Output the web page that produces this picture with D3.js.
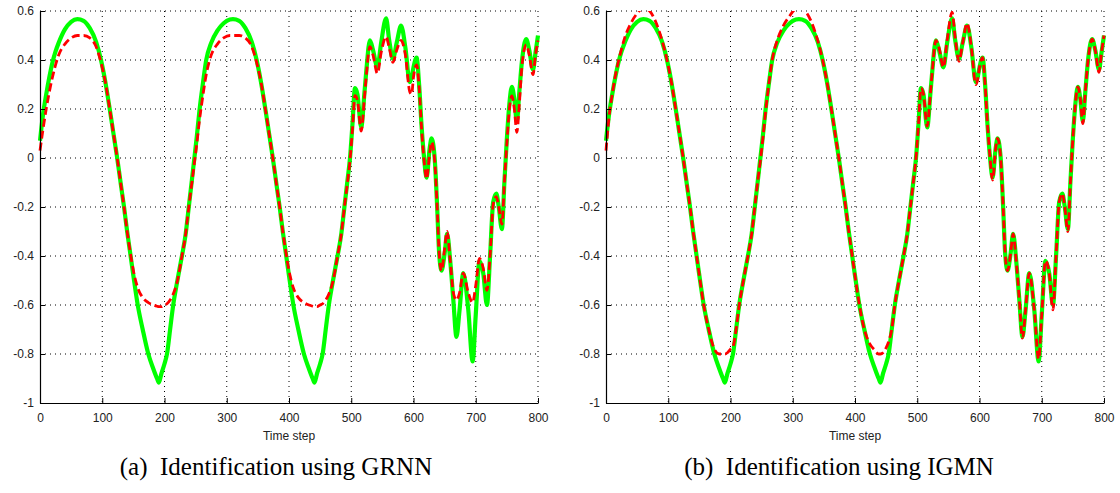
<!DOCTYPE html>
<html>
<head>
<meta charset="utf-8">
<script src="https://cdn.jsdelivr.net/npm/d3@7"></script>
<style>
  body { margin: 0; background: #fff; }
  svg { display: block; }
  .axis text, .x.label { font-family: "Liberation Sans", Arial, sans-serif; font-size: 12px; fill: #222; }
  .axis path, .axis line { stroke: #000; }
  .grid line { stroke: #000; stroke-width: 1; stroke-dasharray: 1,4; }
  .caption { font-family: "Liberation Serif", "Times New Roman", serif; font-size: 25px; fill: #000; }
</style>
</head>
<body>
<svg class="identification" width="1120" height="493"></svg>
<script>
// time steps (first cycle, second cycle, mixed-input part)
var timeSteps = [
  0, 5, 10, 15, 20, 25, 30, 40, 50, 60,
  70, 80, 90, 98, 105, 112, 118, 124, 130, 135,
  140, 145, 150, 157, 165, 174, 182, 188, 191, 195,
  200, 204, 209, 214, 220, 228, 234, 239, 244,
  248, 252, 256, 262, 267, 275, 285, 295, 305, 310,
  320, 330, 340, 348, 355, 362, 368, 374, 380, 385,
  390, 395, 400, 407, 415, 424, 432, 438, 441, 445,
  450, 454, 459, 464, 470, 478, 484, 489, 494,
  498, 502, 506, 510, 516, 521, 524, 530, 535, 542,
  548, 556, 561, 567, 573, 580, 587, 594, 597, 600,
  605, 609, 613, 617, 621, 626, 629, 634, 638, 641,
  645, 650, 654, 659, 664, 669, 674, 680, 688, 695,
  700, 706, 712, 718, 723, 728, 733, 737, 742, 746,
  750, 754, 758, 762, 766, 770, 774, 781, 786, 792,
  796, 800
];

// plant output (green, solid)
var plantOutput = [
  0.07, 0.18, 0.26, 0.33, 0.39, 0.435, 0.47, 0.525, 0.556, 0.567,
  0.56, 0.53, 0.475, 0.40, 0.31, 0.20, 0.10, 0.0, -0.11, -0.20,
  -0.30, -0.39, -0.48, -0.60, -0.70, -0.80, -0.86, -0.90, -0.917, -0.88,
  -0.84, -0.80, -0.70, -0.60, -0.51, -0.40, -0.31, -0.20, -0.09,
  0.0, 0.09, 0.19, 0.31, 0.40, 0.47, 0.52, 0.55, 0.565, 0.567,
  0.56, 0.53, 0.475, 0.40, 0.31, 0.20, 0.10, 0.0, -0.11, -0.20,
  -0.30, -0.39, -0.48, -0.60, -0.70, -0.80, -0.86, -0.90, -0.917, -0.88,
  -0.84, -0.80, -0.70, -0.60, -0.51, -0.40, -0.31, -0.20, -0.09,
  0.0, 0.14, 0.285, 0.26, 0.125, 0.26, 0.35, 0.48, 0.44, 0.37,
  0.47, 0.57, 0.48, 0.405, 0.47, 0.54, 0.45, 0.31, 0.33, 0.37,
  0.41, 0.30, 0.13, 0.0, -0.08, 0.04, 0.08, 0.0, -0.20, -0.38,
  -0.46, -0.39, -0.31, -0.42, -0.58, -0.73, -0.62, -0.47, -0.62, -0.83,
  -0.64, -0.42, -0.47, -0.60, -0.40, -0.18, -0.145, -0.20, -0.29, -0.10,
  0.08, 0.22, 0.29, 0.24, 0.15, 0.27, 0.39, 0.485, 0.44, 0.36,
  0.43, 0.50
];

// GRNN model output (red, dashed) - panel (a)
var grnnOutput = [
  0.03, 0.12, 0.20, 0.27, 0.33, 0.38, 0.42, 0.465, 0.49, 0.50,
  0.50, 0.49, 0.455, 0.39, 0.31, 0.20, 0.10, 0.0, -0.11, -0.20,
  -0.30, -0.385, -0.46, -0.53, -0.57, -0.59, -0.60, -0.605, -0.607, -0.607,
  -0.60, -0.595, -0.58, -0.555, -0.51, -0.40, -0.31, -0.20, -0.10,
  -0.02, 0.06, 0.15, 0.26, 0.34, 0.42, 0.465, 0.49, 0.50, 0.50,
  0.50, 0.49, 0.455, 0.39, 0.31, 0.20, 0.10, 0.0, -0.11, -0.20,
  -0.30, -0.385, -0.46, -0.53, -0.57, -0.59, -0.60, -0.605, -0.607, -0.607,
  -0.60, -0.595, -0.58, -0.555, -0.51, -0.40, -0.31, -0.20, -0.10,
  -0.01, 0.12, 0.255, 0.235, 0.11, 0.24, 0.33, 0.455, 0.42, 0.345,
  0.43, 0.495, 0.45, 0.39, 0.44, 0.48, 0.42, 0.27, 0.26, 0.33,
  0.38, 0.29, 0.12, -0.01, -0.085, 0.02, 0.065, -0.01, -0.20, -0.38,
  -0.46, -0.37, -0.30, -0.42, -0.55, -0.58, -0.55, -0.47, -0.55, -0.59,
  -0.52, -0.41, -0.45, -0.54, -0.40, -0.19, -0.158, -0.20, -0.27, -0.10,
  0.06, 0.20, 0.253, 0.20, 0.105, 0.22, 0.37, 0.462, 0.42, 0.34,
  0.42, 0.48
];

// IGMN model output (red, dashed) - panel (b)
var igmnOutput = [
  0.03, 0.17, 0.26, 0.335, 0.395, 0.445, 0.49, 0.55, 0.59, 0.612,
  0.60, 0.555, 0.48, 0.40, 0.31, 0.20, 0.10, 0.0, -0.11, -0.20,
  -0.30, -0.39, -0.48, -0.60, -0.70, -0.78, -0.80, -0.80, -0.80, -0.795,
  -0.78, -0.77, -0.70, -0.60, -0.51, -0.40, -0.31, -0.20, -0.09,
  -0.01, 0.08, 0.18, 0.31, 0.40, 0.48, 0.54, 0.58, 0.61, 0.615,
  0.60, 0.555, 0.48, 0.40, 0.31, 0.20, 0.10, 0.0, -0.11, -0.20,
  -0.30, -0.39, -0.48, -0.60, -0.70, -0.76, -0.785, -0.80, -0.80, -0.795,
  -0.775, -0.75, -0.70, -0.60, -0.51, -0.40, -0.31, -0.20, -0.09,
  0.0, 0.14, 0.285, 0.26, 0.13, 0.26, 0.35, 0.48, 0.45, 0.37,
  0.48, 0.595, 0.49, 0.395, 0.47, 0.55, 0.45, 0.30, 0.32, 0.37,
  0.41, 0.30, 0.13, 0.0, -0.09, 0.04, 0.08, 0.0, -0.20, -0.38,
  -0.46, -0.39, -0.31, -0.42, -0.58, -0.735, -0.62, -0.47, -0.62, -0.82,
  -0.64, -0.42, -0.47, -0.62, -0.40, -0.18, -0.145, -0.20, -0.30, -0.10,
  0.08, 0.22, 0.29, 0.24, 0.14, 0.27, 0.39, 0.485, 0.44, 0.35,
  0.43, 0.50
];

var xTicks = [0, 100, 200, 300, 400, 500, 600, 700, 800];
var yTicks = [-1, -0.8, -0.6, -0.4, -0.2, 0, 0.2, 0.4, 0.6];
var xLabel = "Time step";
var captions = ["(a)\u2002Identification using GRNN", "(b)\u2002Identification using IGMN"];

var svg = d3.select("svg.identification");

var plotPanel = function (id, left, modelOutput, caption, captionX) {
  var width = 498, height = 392, top = 11;
  var g = svg.append("g").attr("transform", "translate(" + left + "," + top + ")");

  var x = d3.scaleLinear().domain([0, 800]).range([0, width]);
  var y = d3.scaleLinear().domain([-1, 0.6]).range([height, 0]);

  // dotted grid
  g.append("g").attr("class", "grid")
    .selectAll("line.v")
    .data(xTicks.filter(function (d) { return d > 0; }))
    .enter().append("line")
      .attr("x1", function (d) { return x(d); })
      .attr("x2", function (d) { return x(d); })
      .attr("y1", 0)
      .attr("y2", height);

  g.append("g").attr("class", "grid")
    .selectAll("line.h")
    .data(yTicks.filter(function (d) { return d > -1; }))
    .enter().append("line")
      .attr("x1", 0)
      .attr("x2", width)
      .attr("y1", function (d) { return y(d); })
      .attr("y2", function (d) { return y(d); });

  g.append("defs").append("clipPath")
      .attr("id", id)
    .append("rect")
      .attr("x", -3)
      .attr("y", 0)
      .attr("width", width + 6)
      .attr("height", height + 3);

  var line = d3.line()
      .x(function (d) { return x(d[0]); })
      .y(function (d) { return y(d[1]); })
      .curve(d3.curveMonotoneX);

  var lines = g.append("g").attr("clip-path", "url(#" + id + ")");

  lines.append("path")
      .datum(d3.zip(timeSteps, plantOutput))
      .attr("fill", "none")
      .attr("stroke", "#00ff00")
      .attr("stroke-width", 4.2)
      .attr("stroke-linejoin", "round")
      .attr("d", line);

  lines.append("path")
      .datum(d3.zip(timeSteps, modelOutput))
      .attr("fill", "none")
      .attr("stroke", "#ff0000")
      .attr("stroke-width", 2.8)
      .attr("stroke-dasharray", "8,4")
      .attr("d", line);

  g.append("g")
      .attr("class", "axis axis--x")
      .attr("transform", "translate(0," + height + ")")
      .call(d3.axisBottom(x).tickValues(xTicks).tickSize(-5).tickSizeOuter(0).tickPadding(10)
        .tickFormat(function (d) { return String(d); }));

  g.append("g")
      .attr("class", "axis axis--y")
      .call(d3.axisLeft(y).tickValues(yTicks).tickSize(-5).tickSizeOuter(0).tickPadding(6)
        .tickFormat(function (d) { return String(d); }));

  g.selectAll(".axis .domain").attr("stroke-width", 1.2);

  g.append("text")
    .attr("class", "x label")
    .attr("text-anchor", "middle")
    .attr("x", width / 2)
    .attr("y", height + 37)
    .text(xLabel);

  svg.append("text")
    .attr("class", "caption")
    .attr("text-anchor", "middle")
    .attr("x", captionX)
    .attr("y", 475)
    .text(caption);
};

plotPanel("clip-a", 40, grnnOutput, captions[0], 276);
plotPanel("clip-b", 606, igmnOutput, captions[1], 839);
</script>
</body>
</html>
